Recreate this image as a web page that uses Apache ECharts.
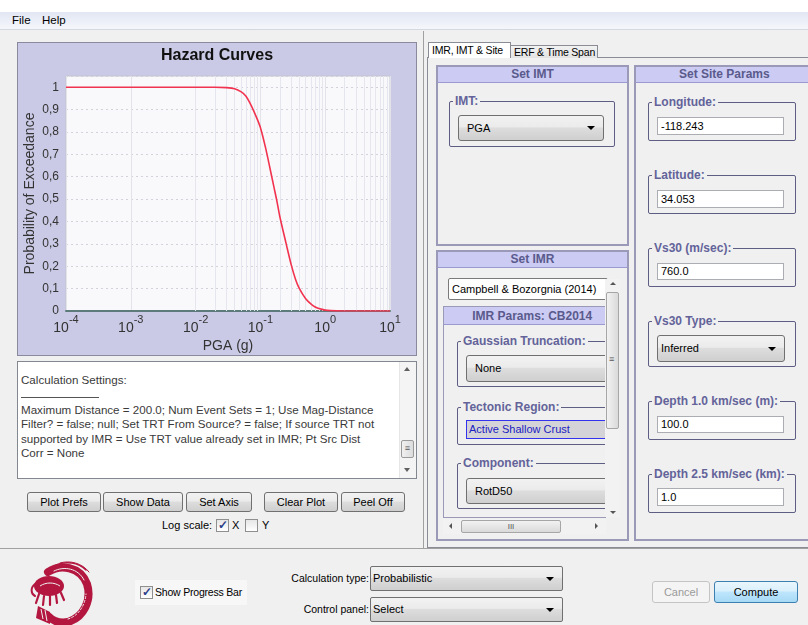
<!DOCTYPE html>
<html>
<head>
<meta charset="utf-8">
<script src="https://cdn.jsdelivr.net/npm/echarts@6/dist/echarts.min.js"></script>
<style>
  html, body { margin:0; padding:0; width:808px; height:625px; overflow:hidden; background:#f0f0f0; }
  body { font-family: "Liberation Sans", Arial, sans-serif; font-size:11px; color:#000; }
  .abs { position:absolute; box-sizing:border-box; white-space:nowrap; }
  .btn { position:absolute; box-sizing:border-box; border:1px solid #707070; border-radius:3px;
         background:linear-gradient(#f2f2f2,#ebebeb 45%,#dddddd 50%,#cfcfcf); text-align:center;
         font-size:11px; line-height:18px; color:#000; white-space:nowrap; }
  .combo { position:absolute; box-sizing:border-box; border:1px solid #707070; border-radius:3px;
           background:linear-gradient(#f2f2f2,#ebebeb 45%,#dddddd 50%,#cfcfcf); font-size:11px; padding-left:8px; white-space:nowrap; }
  .combo .arr { position:absolute; right:8px; top:50%; margin-top:-2px; width:0; height:0;
                border-left:4px solid transparent; border-right:4px solid transparent; border-top:4px solid #000; }
  .field { position:absolute; box-sizing:border-box; border:1px solid #abadb3; background:#fff; font-size:11px; padding-left:3px; white-space:nowrap; }
  .hdr { position:absolute; box-sizing:border-box; background:#cbcbf3; border-bottom:1px solid #9a9ad0;
         text-align:center; font-weight:bold; font-size:12px; color:#5a5a8c; white-space:nowrap; }
  .panel { position:absolute; box-sizing:border-box; border:2px solid #9a9ab8; }
  .grp { position:absolute; box-sizing:border-box; border:1px solid #5e5e84; border-radius:2px; }
  .grp .lbl { position:absolute; left:3px; top:-8px; background:#f0f0f0; padding:0 2px; font-weight:bold;
              font-size:12px; color:#63639a; line-height:14px; white-space:nowrap; }
  .chk { position:absolute; box-sizing:border-box; width:13px; height:13px; border:1px solid #8f8f8f;
         background:linear-gradient(#e6e6e6,#fff); }
  .chk.on::after { content:"\2713"; position:absolute; left:1px; top:-2px; font-size:12px; color:#2a3f8a; font-weight:bold; }
</style>
</head>
<body>
<div class="abs" style="left:0;top:0;width:808px;height:625px;">

  <!-- top strip and menu bar -->
  <div class="abs" style="left:0;top:0;width:808px;height:12px;background:#fff;"></div>
  <div class="abs" style="left:0;top:12px;width:808px;height:18px;background:linear-gradient(#e2e7f3,#f4f6fb);border-bottom:1px solid #d4d8e0;"></div>
  <div class="abs" style="left:12px;top:14px;font-size:11.5px;">File</div>
  <div class="abs" style="left:42px;top:14px;font-size:11.5px;">Help</div>

  <!-- vertical split divider -->
  <div class="abs" style="left:423px;top:31px;width:1px;height:517px;background:#a0a0a0;"></div>

  <!-- chart panel -->
  <div id="chart" class="abs" style="left:17px;top:42px;width:400px;height:314px;border:1px solid #8a8a9e;"></div>

  <!-- text area -->
  <div class="abs" style="left:17px;top:361px;width:400px;height:118px;border:1px solid #828790;background:#fff;"></div>
  <div class="abs" style="left:21px;top:373px;width:380px;font-size:11.6px;line-height:14.6px;color:#3a3a3a;">
    Calculation Settings:<br>
    <div style="width:78px;height:1px;background:#555;margin:9px 0 5px 0;"></div>
    Maximum Distance = 200.0; Num Event Sets = 1; Use Mag-Distance<br>
    Filter? = false; null; Set TRT From Source? = false; If source TRT not<br>
    supported by IMR = Use TRT value already set in IMR; Pt Src Dist<br>
    Corr = None
  </div>
  <!-- text area scrollbar -->
  <div class="abs" style="left:399px;top:362px;width:17px;height:116px;background:#f4f4f4;border-left:1px solid #e6e6e6;"></div>
  <div class="abs" style="left:404px;top:367px;width:0;height:0;border-left:3px solid transparent;border-right:3px solid transparent;border-bottom:4px solid #606060;"></div>
  <div class="abs" style="left:404px;top:468px;width:0;height:0;border-left:3px solid transparent;border-right:3px solid transparent;border-top:4px solid #606060;"></div>
  <div class="abs" style="left:401px;top:440px;width:13px;height:18px;border:1px solid #9a9a9a;border-radius:2px;background:linear-gradient(90deg,#f0f0f0,#dcdcdc);font-size:9px;text-align:center;line-height:15px;color:#555;">&#8801;</div>

  <!-- buttons -->
  <div class="btn" style="left:27px;top:492px;width:74px;height:20px;">Plot Prefs</div>
  <div class="btn" style="left:103px;top:492px;width:80px;height:20px;">Show Data</div>
  <div class="btn" style="left:186px;top:492px;width:66px;height:20px;">Set Axis</div>
  <div class="btn" style="left:264px;top:492px;width:74px;height:20px;">Clear Plot</div>
  <div class="btn" style="left:341px;top:492px;width:64px;height:20px;">Peel Off</div>

  <div class="abs" style="left:162px;top:519px;font-size:11px;">Log scale:</div>
  <div class="chk on" style="left:216px;top:519px;"></div>
  <div class="abs" style="left:232px;top:519px;font-size:11px;">X</div>
  <div class="chk" style="left:245px;top:519px;"></div>
  <div class="abs" style="left:262px;top:519px;font-size:11px;">Y</div>

  <!-- right side tabs -->
  <div class="abs" style="left:427px;top:57px;width:385px;height:491px;border:1px solid #898c95;background:#f0f0f0;"></div>
  <div class="abs" style="left:428px;top:42px;width:83px;height:16px;border:1px solid #898c95;border-bottom:none;background:#fff;font-size:10.5px;line-height:14px;padding-left:3px;letter-spacing:-0.2px;">IMR, IMT &amp; Site</div>
  <div class="abs" style="left:511px;top:45px;width:87px;height:13px;border:1px solid #898c95;border-left:none;border-bottom:none;background:linear-gradient(#f2f2f2,#e3e3e3);font-size:10.5px;line-height:12px;padding-left:3px;letter-spacing:-0.2px;">ERF &amp; Time Span</div>

  <!-- Set IMT panel -->
  <div class="panel" style="left:436px;top:65px;width:193px;height:181px;"></div>
  <div class="hdr" style="left:438px;top:67px;width:189px;height:16px;line-height:15px;">Set IMT</div>
  <div class="grp" style="left:449px;top:101px;width:166px;height:46px;"><span class="lbl">IMT:</span></div>
  <div class="combo" style="left:458px;top:115px;width:146px;height:26px;line-height:24px;">PGA<span class="arr"></span></div>

  <!-- Set IMR panel -->
  <div class="panel" style="left:436px;top:250px;width:193px;height:291px;"></div>
  <div class="hdr" style="left:438px;top:252px;width:189px;height:16px;line-height:15px;">Set IMR</div>
  <div class="field" style="left:448px;top:278px;width:160px;height:22px;line-height:20px;border-color:#7a7a7a;border-radius:2px;">Campbell &amp; Bozorgnia (2014)</div>
  <!-- IMR params sub panel (clipped) -->
  <div class="abs" style="left:443px;top:306px;width:163px;height:212px;border:1px solid #9a9ab8;border-right:none;border-top:none;overflow:hidden;">
    <div class="hdr" style="left:0;top:0;width:163px;height:19px;line-height:18px;border-top:1px solid #9a9ab8;">&nbsp;&nbsp;&nbsp;&nbsp;IMR Params: CB2014</div>
    <div class="grp" style="left:13px;top:35px;width:170px;height:46px;"><span class="lbl">Gaussian Truncation:</span></div>
    <div class="combo" style="left:22px;top:49px;width:170px;height:27px;line-height:25px;">None</div>
    <div class="grp" style="left:13px;top:101px;width:170px;height:38px;"><span class="lbl">Tectonic Region:</span></div>
    <div class="abs" style="left:22px;top:114px;width:170px;height:19px;border:1px solid #3333ee;background:#d4d4d8;color:#2020c0;font-size:11px;line-height:17px;padding-left:2px;">Active Shallow Crust</div>
    <div class="grp" style="left:13px;top:157px;width:170px;height:46px;"><span class="lbl">Component:</span></div>
    <div class="combo" style="left:22px;top:172px;width:170px;height:26px;line-height:24px;">RotD50</div>
  </div>
  <!-- vertical scrollbar IMR -->
  <div class="abs" style="left:605px;top:279px;width:15px;height:238px;background:#f2f2f2;"></div>
  <div class="abs" style="left:610px;top:282px;width:0;height:0;border-left:3px solid transparent;border-right:3px solid transparent;border-bottom:3px solid #555;"></div>
  <div class="abs" style="left:610px;top:511px;width:0;height:0;border-left:3px solid transparent;border-right:3px solid transparent;border-top:3px solid #555;"></div>
  <div class="abs" style="left:606px;top:292px;width:13px;height:137px;border:1px solid #a6a6a6;border-radius:2px;background:linear-gradient(90deg,#f2f2f2,#dadada);"></div>
  <div class="abs" style="left:609px;top:354px;font-size:9px;color:#555;">&#8801;</div>
  <!-- horizontal scrollbar IMR -->
  <div class="abs" style="left:443px;top:519px;width:163px;height:15px;background:#f2f2f2;"></div>
  <div class="abs" style="left:449px;top:523px;width:0;height:0;border-top:3px solid transparent;border-bottom:3px solid transparent;border-right:3px solid #555;"></div>
  <div class="abs" style="left:595px;top:523px;width:0;height:0;border-top:3px solid transparent;border-bottom:3px solid transparent;border-left:3px solid #555;"></div>
  <div class="abs" style="left:461px;top:520px;width:100px;height:13px;border:1px solid #a6a6a6;border-radius:2px;background:linear-gradient(#f2f2f2,#dadada);font-size:8px;text-align:center;line-height:11px;color:#555;">III</div>

  <!-- Set Site Params panel -->
  <div class="panel" style="left:634px;top:65px;width:180px;height:476px;"></div>
  <div class="hdr" style="left:636px;top:67px;width:176px;height:16px;line-height:15px;text-align:left;padding-left:43px;">Set Site Params</div>

  <div class="grp" style="left:648px;top:102px;width:148px;height:39px;"><span class="lbl">Longitude:</span></div>
  <div class="field" style="left:657px;top:117px;width:127px;height:18px;line-height:16px;">-118.243</div>

  <div class="grp" style="left:648px;top:175px;width:148px;height:39px;"><span class="lbl">Latitude:</span></div>
  <div class="field" style="left:657px;top:190px;width:127px;height:18px;line-height:16px;">34.053</div>

  <div class="grp" style="left:648px;top:248px;width:148px;height:39px;"><span class="lbl">Vs30 (m/sec):</span></div>
  <div class="field" style="left:657px;top:263px;width:127px;height:17px;line-height:15px;">760.0</div>

  <div class="grp" style="left:648px;top:321px;width:148px;height:46px;"><span class="lbl">Vs30 Type:</span></div>
  <div class="combo" style="left:657px;top:335px;width:128px;height:27px;line-height:25px;padding-left:3px;">Inferred<span class="arr"></span></div>

  <div class="grp" style="left:648px;top:401px;width:148px;height:39px;"><span class="lbl">Depth 1.0 km/sec (m):</span></div>
  <div class="field" style="left:657px;top:416px;width:127px;height:17px;line-height:15px;">100.0</div>

  <div class="grp" style="left:648px;top:474px;width:148px;height:39px;"><span class="lbl">Depth 2.5 km/sec (km):</span></div>
  <div class="field" style="left:657px;top:488px;width:127px;height:18px;line-height:16px;">1.0</div>

  <!-- bottom panel -->
  <div class="abs" style="left:0;top:548px;width:808px;height:77px;border-top:1px solid #a0a0a0;background:#f0f0f0;"></div>
  <svg class="abs" style="left:26px;top:560px;" width="70" height="65" viewBox="0 0 70 65">
    <g fill="none" stroke="#b3173f" stroke-linecap="round">
      <path d="M22 12 C 34 4, 54 6, 61 24 C 66 40, 58 57, 42 62 C 32 64, 26 60, 22 56" stroke-width="8"/>
      <path d="M30 5 C 40 1, 52 2, 60 10" stroke-width="1.5"/>
      <path d="M34 3 C 44 0, 56 3, 63 12" stroke-width="1"/>
      <path d="M28 11 C 38 6, 52 8, 58 20" stroke-width="1" stroke="#f0f0f0"/>
      <path d="M42 59 C 52 56, 59 46, 60 34" stroke-width="1" stroke="#f0f0f0" stroke-dasharray="2 2"/>
      <path d="M13 34 l-3 9 M18 36 l-1 9 M24 36 l0 9 M30 35 l1 8 M35 33 l3 7" stroke-width="2.2"/>
      <path d="M9 24 C 4 28, 5 34, 9 36" stroke-width="2"/>
    </g>
    <g fill="#b3173f">
      <ellipse cx="23" cy="26" rx="15" ry="10"/>
      <path d="M12 46 L 24 52 L 24 64 L 10 58 Z"/>
    </g>
    <path d="M15 49 l2 10 M19 50 l2 11" stroke="#f0f0f0" stroke-width="1"/>
    <path d="M14 26 C 20 22, 28 22, 34 26" stroke="#f0f0f0" stroke-width="1" fill="none"/>
  </svg>
  <div class="abs" style="left:135px;top:580px;width:112px;height:25px;background:#f7f7f7;"></div>
  <div class="chk on" style="left:140px;top:586px;"></div>
  <div class="abs" style="left:155px;top:586px;font-size:10.5px;letter-spacing:-0.2px;">Show Progress Bar</div>

  <div class="abs" style="left:270px;top:572px;width:99px;text-align:right;font-size:10.5px;">Calculation type:</div>
  <div class="combo" style="left:370px;top:566px;width:193px;height:25px;line-height:23px;padding-left:2px;border-radius:2px;">Probabilistic<span class="arr"></span></div>
  <div class="abs" style="left:270px;top:603px;width:99px;text-align:right;font-size:10.5px;">Control panel:</div>
  <div class="combo" style="left:370px;top:597px;width:193px;height:25px;line-height:23px;padding-left:2px;border-radius:2px;">Select<span class="arr"></span></div>

  <div class="btn" style="left:652px;top:581px;width:58px;height:22px;line-height:20px;color:#9a9a9a;border-color:#c4c4c4;background:#f4f4f4;">Cancel</div>
  <div class="btn" style="left:714px;top:581px;width:84px;height:22px;line-height:20px;border-color:#3c7fb1;background:linear-gradient(#eaf6fd,#d9f0fc 45%,#bee6fd 50%,#a7d9f5);">Compute</div>
</div>

<script>
// ---- data ----
const pgaValues = [0.0001, 0.0002, 0.0005, 0.001, 0.002, 0.005, 0.01, 0.02, 0.03, 0.04, 0.05, 0.06, 0.07, 0.08, 0.09,
                   0.1, 0.12, 0.14, 0.16, 0.18, 0.2, 0.25, 0.3, 0.35, 0.4, 0.5, 0.6, 0.7, 0.8, 1.0, 1.2, 1.5, 2, 3, 5, 7, 10];
const probExceed = [1, 1, 1, 1, 1, 1, 1, 1, 0.998, 0.993, 0.98, 0.96, 0.925, 0.89, 0.855,
                    0.82, 0.73, 0.64, 0.56, 0.49, 0.42, 0.30, 0.205, 0.14, 0.10, 0.055, 0.032, 0.018, 0.011, 0.004, 0.0015, 0.0005, 0.0001, 0, 0, 0, 0];
const xDecades = [0.0001, 0.001, 0.01, 0.1, 1, 10];
const minorMultipliers = [2, 3, 4, 5, 6, 7, 8, 9];
const yTickStep = 0.1;

const minorGrid = [];
xDecades.slice(0, -1).forEach(d => minorMultipliers.forEach(m => minorGrid.push(d * m)));

const chart = echarts.init(document.getElementById('chart'), null, {renderer: 'canvas'});
chart.setOption({
  backgroundColor: '#cacae6',
  animation: false,
  title: {
    text: 'Hazard Curves', left: 'center', top: 0,
    textStyle: {fontFamily: 'Liberation Sans', fontSize: 16, fontWeight: 'bold', color: '#111'}
  },
  grid: {left: 48, right: 26, top: 33, bottom: 44, containLabel: false, outerBoundsMode: 'none',
         show: true, backgroundColor: '#f9f9fb', borderColor: '#c4c4d0', borderWidth: 1},
  xAxis: {
    type: 'log', logBase: 10, min: 0.0001, max: 10,
    name: 'PGA (g)', nameLocation: 'middle', nameGap: 28, nameMoveOverlap: false,
    nameTextStyle: {fontFamily: 'Liberation Sans', fontSize: 14, color: '#333'},
    axisLine: {show: true, onZero: false, lineStyle: {color: '#5d7b7b', width: 2}},
    axisTick: {show: false},
    splitLine: {show: true, lineStyle: {color: '#e3e3ea', width: 1}},
    axisLabel: {
      margin: 3,
      formatter: v => '{b|10}{s|' + Math.round(Math.log10(v)) + '}',
      rich: {
        b: {fontFamily: 'Liberation Sans', fontSize: 14, color: '#333', padding: [7, 0, 0, 0]},
        s: {fontFamily: 'Liberation Sans', fontSize: 11, color: '#333', verticalAlign: 'top'}
      }
    }
  },
  yAxis: {
    type: 'value', min: 0, max: 1.05, interval: yTickStep,
    name: 'Probability of Exceedance', nameLocation: 'middle', nameGap: 29, nameRotate: 90, nameMoveOverlap: false,
    nameTextStyle: {fontFamily: 'Liberation Sans', fontSize: 14, color: '#333'},
    axisLine: {show: false},
    axisTick: {show: false},
    splitLine: {show: true, lineStyle: {color: '#d2d2dc', type: [2, 3], width: 1}},
    axisLabel: {
      margin: 7, fontFamily: 'Liberation Sans', fontSize: 12, color: '#333',
      formatter: v => v > 1.0001 ? '' : String(Math.round(v * 10) / 10).replace('.', ',')
    }
  },
  series: [
    {
      type: 'line', data: [], z: 1, silent: true,
      markLine: {
        silent: true, symbol: 'none', animation: false, label: {show: false},
        lineStyle: {color: '#e6e6ee', type: 'solid', width: 1},
        data: minorGrid.map(v => ({xAxis: v}))
      }
    },
    {
      type: 'line', z: 5, showSymbol: false, smooth: 0.3,
      data: pgaValues.map((x, i) => [x, probExceed[i]]),
      lineStyle: {color: '#f2334f', width: 1.6}
    }
  ]
});
</script>
</body>
</html>
